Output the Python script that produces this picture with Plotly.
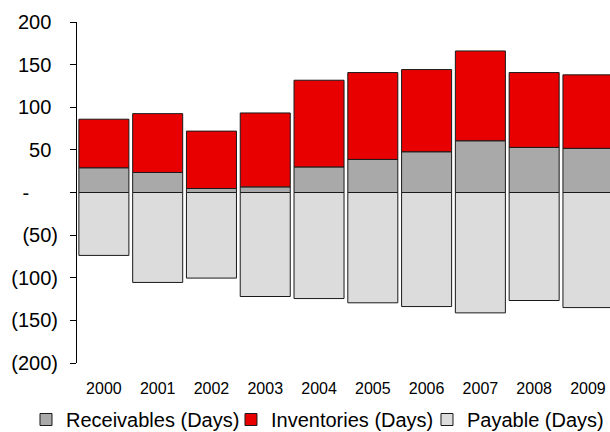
import plotly.graph_objects as go

years = ["2000", "2001", "2002", "2003", "2004", "2005", "2006", "2007", "2008", "2009"]
receivables = [29, 23.5, 4.7, 6.6, 30, 38.8, 47.8, 60.7, 52.9, 51.8]
inventories = [57, 69, 67.3, 86.7, 101.7, 101.9, 96.4, 105.3, 87.8, 86.2]
payables = [-73.8, -105.5, -100.4, -122, -124.4, -129.4, -133.8, -141.2, -126.7, -135]

y_tickvals = [200, 150, 100, 50, 0, -50, -100, -150, -200]
hid = '<span style="color:rgba(0,0,0,0)">%s</span>'
y_ticktext = ["200" + hid % ")", "150" + hid % ")", "100" + hid % ")", "50" + hid % ")",
              "-" + hid % "00)", "(50)", "(100)", "(150)", "(200)"]

FONT = "Arial, Liberation Sans, sans-serif"
x_idx = list(range(len(years)))

fig = go.Figure()
fig.add_trace(go.Bar(x=x_idx, y=receivables, name="Receivables (Days)", legendwidth=160,
                     marker=dict(color="#a9a9a9", line=dict(color="#1a1a1a", width=1))))
fig.add_trace(go.Bar(x=x_idx, y=inventories, name="Inventories (Days)", legendwidth=151,
                     marker=dict(color="#e80000", line=dict(color="#1a1a1a", width=1))))
fig.add_trace(go.Bar(x=x_idx, y=payables, name="Payable (Days)", legendwidth=140,
                     marker=dict(color="#dcdcdc", line=dict(color="#1a1a1a", width=1))))

xr = [-0.5, 9.41]
fig.update_layout(
    width=610, height=432,
    margin=dict(l=77, r=0, t=22, b=69, autoexpand=False),
    barmode="relative", bargap=0.07,
    paper_bgcolor="white", plot_bgcolor="white",
    font=dict(family=FONT, color="#000000"),
    xaxis=dict(range=xr, tickvals=x_idx, ticktext=years, showgrid=False, zeroline=False,
               showline=False, ticks="", tickfont=dict(size=16, family=FONT, color="#000"),
               ticklabelstandoff=14),
    xaxis2=dict(range=xr, overlaying="x", anchor="free", position=0.5, side="bottom",
                showline=True, linecolor="#000000", linewidth=1, showgrid=False, zeroline=False,
                ticks="outside", ticklen=5, tickcolor="#000000", tickwidth=1,
                tickvals=[i + 0.5 for i in range(9)], showticklabels=False),
    yaxis=dict(range=[-200, 200], tickvals=y_tickvals, ticktext=y_ticktext, showgrid=False,
               zeroline=False, showline=True, linecolor="#000000", linewidth=1,
               ticks="outside", ticklen=6, tickcolor="#000000",
               tickfont=dict(size=20, family=FONT, color="#000"), ticklabelstandoff=8),
    legend=dict(orientation="h", xref="paper", yref="paper", x=-0.0957, xanchor="left",
                y=-0.2229, yanchor="bottom", font=dict(size=20, family=FONT, color="#000"),
                traceorder="normal", bgcolor="rgba(0,0,0,0)"),
    showlegend=True,
)

fig.write_html("out.html")
